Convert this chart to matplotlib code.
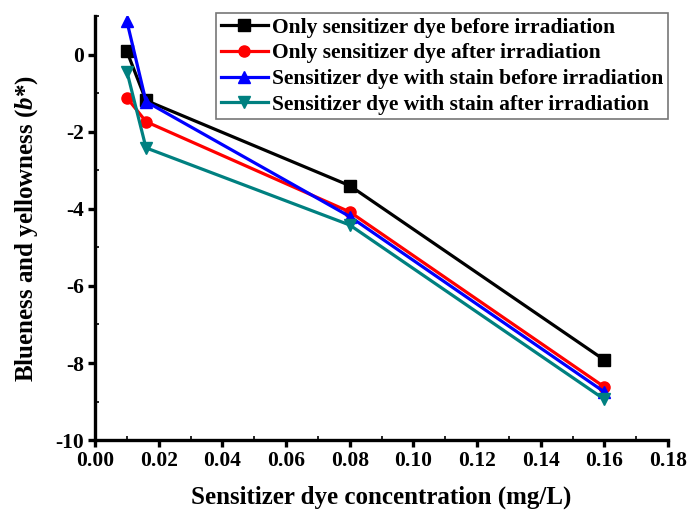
import matplotlib
matplotlib.use("Agg")
import matplotlib.pyplot as plt
from matplotlib.ticker import MultipleLocator

plt.rcParams['font.family'] = ['Liberation Serif', 'DejaVu Serif']
plt.rcParams['font.weight'] = 'bold'
plt.rcParams['mathtext.fontset'] = 'custom'
plt.rcParams['mathtext.it'] = 'Liberation Serif:italic:bold'
plt.rcParams['mathtext.rm'] = 'Liberation Serif:bold'
plt.rcParams['axes.unicode_minus'] = False

conc = [0.01, 0.016, 0.08, 0.16]
only_before = [0.08, -1.19, -3.40, -7.92]
only_after = [-1.12, -1.74, -4.08, -8.62]
stain_before = [0.86, -1.22, -4.20, -8.75]
stain_after = [-0.44, -2.42, -4.42, -8.94]

labels = ["Only sensitizer dye before irradiation",
          "Only sensitizer dye after irradiation",
          "Sensitizer dye with stain before irradiation",
          "Sensitizer dye with stain after irradiation"]
colors = ["#000000", "#ff0000", "#0000ff", "#008080"]
markers = ["s", "o", "^", "v"]

fig = plt.figure(figsize=(6.89, 5.16), dpi=100)
ax = fig.add_axes([0.138, 0.147, 0.8315, 0.822])

for y, lab, c, m in zip([only_before, only_after, stain_before, stain_after], labels, colors, markers):
    ax.plot(conc, y, color=c, marker=m, markersize=8, linewidth=2.3, label=lab)

ax.set_xlim(0, 0.18)
ax.set_ylim(-10, 1)
ax.xaxis.set_major_locator(MultipleLocator(0.02))
ax.xaxis.set_minor_locator(MultipleLocator(0.01))
ax.yaxis.set_major_locator(MultipleLocator(2))
ax.yaxis.set_minor_locator(MultipleLocator(1))
ax.xaxis.set_major_formatter(matplotlib.ticker.FormatStrFormatter('%.2f'))

ax.spines['top'].set_visible(False)
ax.spines['right'].set_visible(False)
for s in ['left', 'bottom']:
    ax.spines[s].set_linewidth(2.4)

ax.tick_params(which='major', direction='out', length=5, width=2.4, labelsize=15.5, pad=3)
ax.tick_params(which='minor', direction='in', length=3, width=1.2)
for t in ax.get_xticklabels() + ax.get_yticklabels():
    t.set_fontweight('bold')

ax.set_xlabel("Sensitizer dye concentration (mg/L)", fontsize=18, fontweight='bold', labelpad=10)
ax.set_ylabel(r"Blueness and yellowness ($b$*)", fontsize=18, fontweight='bold', labelpad=11)

leg = ax.legend(loc='upper right', bbox_to_anchor=(1.0, 1.006), fontsize=15.5, frameon=True,
                fancybox=False, edgecolor='#555555', handlelength=2.2, handletextpad=0.2,
                borderpad=0.2, labelspacing=0.26, borderaxespad=0.0)
leg.get_frame().set_linewidth(1.2)
for t in leg.get_texts():
    t.set_fontweight('bold')

fig.savefig("out.png", dpi=100)
